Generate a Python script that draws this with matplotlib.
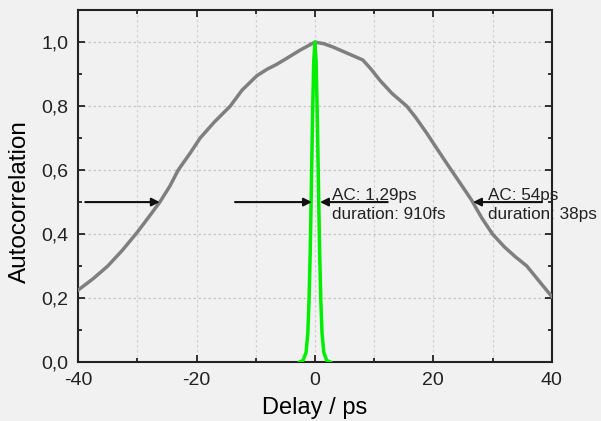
import matplotlib
matplotlib.use("Agg")
import matplotlib.pyplot as plt
from matplotlib.ticker import MultipleLocator, FuncFormatter

# broad autocorrelation trace (grey)
delay_broad = [-40, -37.5, -35, -32.5, -30, -28, -26.2, -24.5, -23.1, -21, -19.4, -17,
               -14.3, -12.3, -9.8, -8.1, -6.5, -4.7, -2.5, -1, 0, 1.5, 3, 5.5, 8.1,
               9.5, 11, 13, 15.5, 17, 18.9, 20.5, 22.3, 24.5, 26.5, 28.2, 30, 32,
               33.8, 35.8, 38, 40]
ac_broad = [0.225, 0.26, 0.30, 0.35, 0.406, 0.455, 0.50, 0.55, 0.60, 0.655, 0.70, 0.75,
            0.80, 0.85, 0.895, 0.915, 0.93, 0.95, 0.975, 0.99, 1.0, 0.995, 0.985, 0.965,
            0.944, 0.915, 0.88, 0.84, 0.80, 0.765, 0.715, 0.67, 0.62, 0.56, 0.505,
            0.45, 0.40, 0.36, 0.33, 0.30, 0.25, 0.205]

# narrow autocorrelation trace (green)
delay_narrow = [-2.6, -2.0, -1.5, -1.2, -1.0, -0.8, -0.645, -0.4, -0.2, 0.0,
                0.2, 0.4, 0.645, 0.8, 1.0, 1.2, 1.5, 2.0, 2.6]
ac_narrow = [0.0, 0.005, 0.03, 0.09, 0.19, 0.34, 0.5, 0.77, 0.94, 1.0,
             0.94, 0.77, 0.5, 0.34, 0.19, 0.09, 0.03, 0.005, 0.0]

plt.rcParams["axes.unicode_minus"] = False
plt.rcParams["font.family"] = ["Liberation Sans", "DejaVu Sans"]

bg = "#f1f1f1"
fig = plt.figure(figsize=(6.01, 4.21), dpi=100, facecolor=bg)
ax = fig.add_axes([0.13, 0.14, 0.788, 0.836], facecolor=bg)

ax.plot(delay_broad, ac_broad, color="#7f7f7f", linewidth=2.5, zorder=3)
ax.plot(delay_narrow, ac_narrow, color="#00ee00", linewidth=2.5, zorder=4)

ax.set_xlim(-40, 40)
ax.set_ylim(0, 1.1)
ax.xaxis.set_major_locator(MultipleLocator(20))
ax.xaxis.set_minor_locator(MultipleLocator(10))
ax.yaxis.set_major_locator(MultipleLocator(0.2))
ax.yaxis.set_minor_locator(MultipleLocator(0.1))
ax.yaxis.set_major_formatter(FuncFormatter(lambda v, p: f"{v:.1f}".replace(".", ",")))
ax.tick_params(which="both", direction="in", top=True, right=True,
               labeltop=False, labelright=False, width=1.3, colors="#222222")
ax.tick_params(which="major", length=5, labelsize=14, pad=7)
ax.tick_params(which="minor", length=3)

ax.grid(True, which="major", axis="y", color="#c4c4c4", linestyle=(0, (2, 2)), linewidth=0.9)
ax.grid(True, which="both", axis="x", color="#d2d2d2", linestyle=(0, (2, 2)), linewidth=0.9)
ax.set_axisbelow(True)
for s in ax.spines.values():
    s.set_linewidth(1.5)
    s.set_color("#222222")

ax.set_xlabel("Delay / ps", fontsize=17, labelpad=6)
ax.set_ylabel("Autocorrelation", fontsize=17.5)
ax.yaxis.set_label_coords(-0.1, 0.455)

arrow = dict(arrowstyle="-|>", color="#111111", lw=1.5, mutation_scale=12, shrinkA=0, shrinkB=0)
ax.annotate("", xy=(-26.2, 0.5), xytext=(-38.8, 0.5), arrowprops=arrow, zorder=5)
ax.annotate("", xy=(-0.5, 0.5), xytext=(-13.5, 0.5), arrowprops=arrow, zorder=5)
ax.annotate("", xy=(0.85, 0.5), xytext=(12.3, 0.5), arrowprops=arrow, zorder=5)
ax.annotate("", xy=(26.7, 0.5), xytext=(38.3, 0.5), arrowprops=arrow, zorder=5)

tfont = dict(fontsize=12.3, color="#222222")
ax.text(2.9, 0.507, "AC: 1,29ps", va="baseline", **tfont)
ax.text(2.9, 0.448, "duration: 910fs", va="baseline", **tfont)
ax.text(29.2, 0.507, "AC: 54ps", va="baseline", clip_on=False, **tfont)
ax.text(29.2, 0.448, "duration: 38ps", va="baseline", clip_on=False, **tfont)

fig.savefig("out.png", dpi=100, facecolor=bg)
